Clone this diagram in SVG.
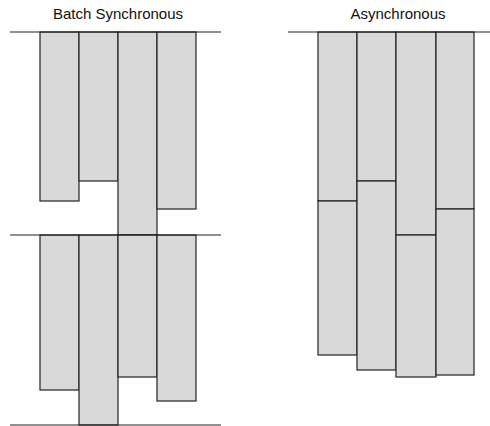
<svg xmlns="http://www.w3.org/2000/svg" width="490" height="426" viewBox="0 0 490 426">
<style>
.t{font-family:"Liberation Sans",Arial,sans-serif;font-size:15px;fill:#111;text-anchor:middle}
.b{fill:#d9d9d9;stroke:#222;stroke-width:1.2}
.l{stroke:#222;stroke-width:1.2;fill:none}
</style>
<rect width="490" height="426" fill="#fff"/>
<text class="t" x="118" y="19">Batch Synchronous</text>
<text class="t" x="398" y="19">Asynchronous</text>
<g id="batch">
<rect class="b" x="40" y="32" width="39" height="169"/>
<rect class="b" x="79" y="32" width="39" height="149"/>
<rect class="b" x="118" y="32" width="39" height="203"/>
<rect class="b" x="157" y="32" width="39" height="177"/>
<rect class="b" x="40" y="235" width="39" height="155"/>
<rect class="b" x="79" y="235" width="39" height="190"/>
<rect class="b" x="118" y="235" width="39" height="142"/>
<rect class="b" x="157" y="235" width="39" height="166"/>
<line class="l" x1="10" y1="32" x2="221" y2="32"/>
<line class="l" x1="10" y1="235" x2="221" y2="235"/>
<line class="l" x1="10" y1="425" x2="221" y2="425"/>
</g>
<g id="async">
<rect class="b" x="318" y="32" width="39" height="169"/>
<rect class="b" x="318" y="201" width="39" height="154"/>
<rect class="b" x="357" y="32" width="39" height="149"/>
<rect class="b" x="357" y="181" width="39" height="189"/>
<rect class="b" x="396" y="32" width="40" height="203"/>
<rect class="b" x="396" y="235" width="40" height="142"/>
<rect class="b" x="436" y="32" width="38" height="177"/>
<rect class="b" x="436" y="209" width="38" height="166"/>
<line class="l" x1="288" y1="32" x2="490" y2="32"/>
</g>
</svg>
